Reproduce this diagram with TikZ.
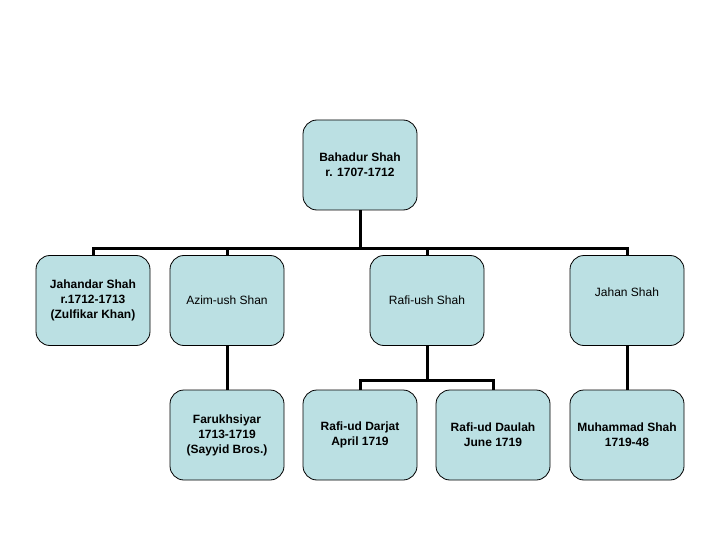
\documentclass[tikz,border=0pt]{standalone}
\usepackage{fontspec}
\setmainfont{Liberation Sans}
\definecolor{boxblue}{RGB}{187,224,227}

\begin{document}
\begin{tikzpicture}[x=1pt,y=-1pt,
  person/.style={draw=black,line width=0.8pt,fill=boxblue,rounded corners=14pt,
    minimum width=114pt,minimum height=90pt,align=center,inner sep=2pt,
    font=\fontsize{12}{15}\selectfont},
  ruler/.style={person,font=\fontsize{12}{15}\selectfont\bfseries},
  link/.style={line width=3pt}]
\useasboundingbox (0,0) rectangle (720,540);

% top
\node[ruler] (bahadur) at (360,165) {Bahadur Shah\\r. 1707-1712};

% sons
\node[ruler]  (jahandar) at (93,300.5) {Jahandar Shah\\r.1712-1713\\(Zulfikar Khan)};
\node[person] (azim)     at (227,300.5) {Azim-ush Shan};
\node[person] (rafiush)  at (427,300.5) {Rafi-ush Shah};
\node[person,text depth=17pt] (jahan) at (627,300.5) {Jahan Shah};

% grandsons
\node[ruler] (farukh)   at (227,435) {Farukhsiyar\\1713-1719\\(Sayyid Bros.)};
\node[ruler] (darjat)   at (360,435) {Rafi-ud Darjat\\April 1719};
\node[ruler] (daulah)   at (493,435) {Rafi-ud Daulah\\June 1719};
\node[ruler] (muhammad) at (627,435) {Muhammad Shah\\1719-48};

\draw[link] (bahadur.south) -- ++(0,38) -| (jahandar.north);
\draw[link] (bahadur.south) -- ++(0,38) -| (azim.north);
\draw[link] (bahadur.south) -- ++(0,38) -| (rafiush.north);
\draw[link] (bahadur.south) -- ++(0,38) -| (jahan.north);

\draw[link] (azim.south) -- (farukh.north);
\draw[link] (rafiush.south) -- ++(0,35) -| (darjat.north);
\draw[link] (rafiush.south) -- ++(0,35) -| (daulah.north);
\draw[link] (jahan.south) -- (muhammad.north);

\end{tikzpicture}
\end{document}
